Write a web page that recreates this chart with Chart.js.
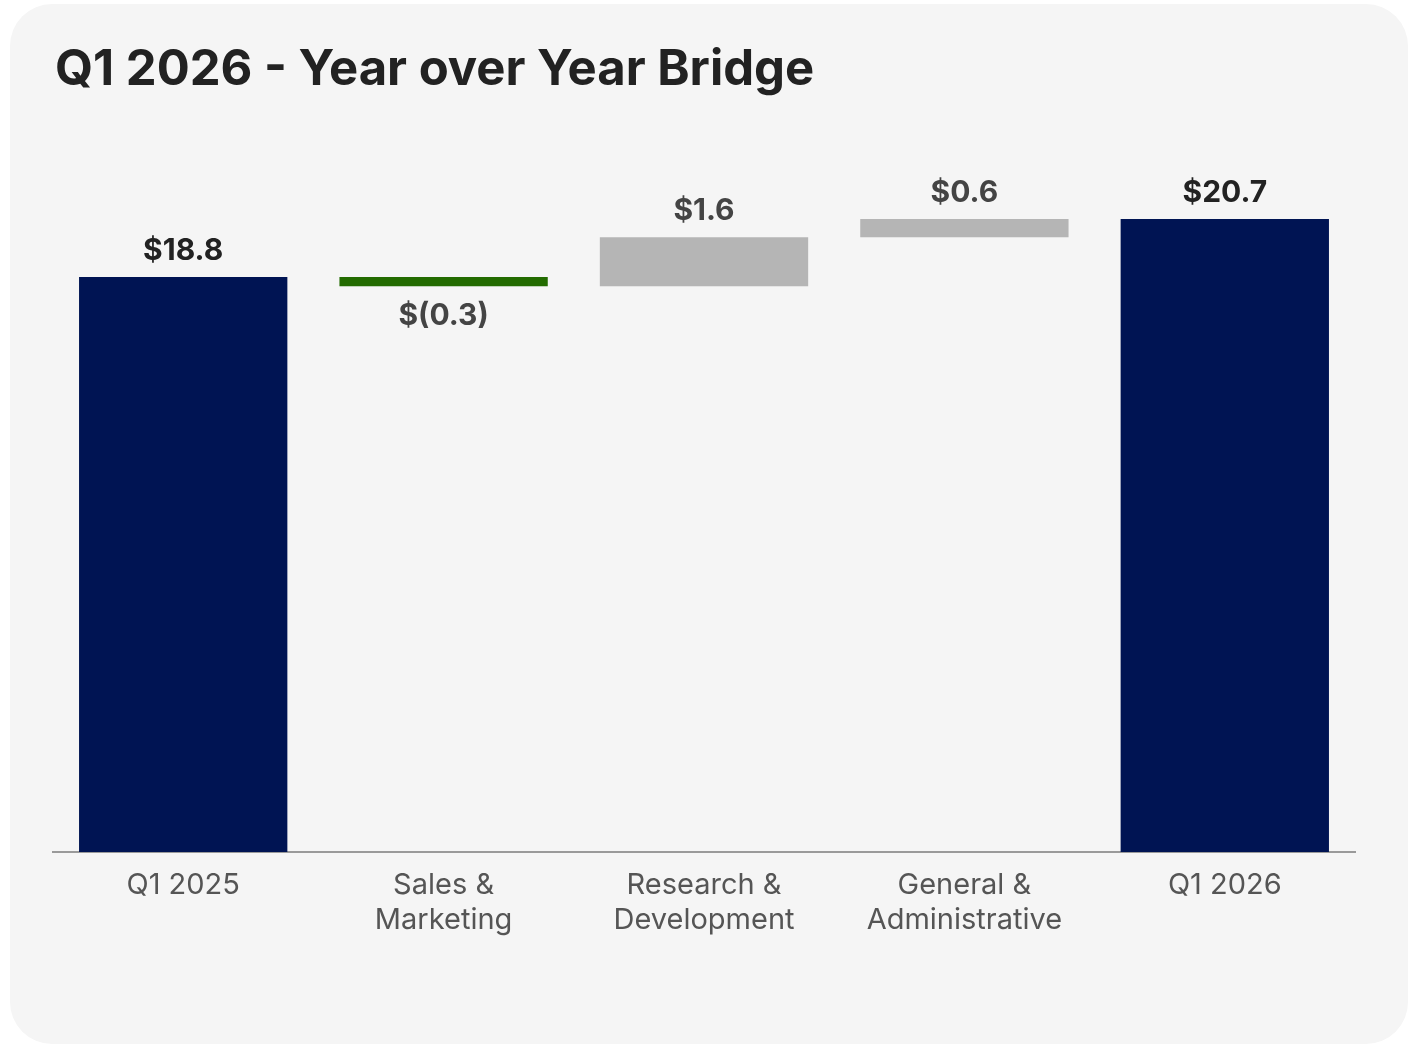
<!DOCTYPE html>
<html>
<head>
<meta charset="utf-8">
<script src="https://cdn.jsdelivr.net/npm/chart.js@4/dist/chart.umd.min.js"></script>
<style>
  html, body { margin: 0; padding: 0; background: #ffffff; }
  body { width: 1413px; height: 1045px; position: relative; overflow: hidden; font-family: Inter, "Noto Sans", sans-serif; }
  .card {
    position: absolute; left: 10px; top: 4px; width: 1398px; height: 1040px;
    background: #f5f5f5; border-radius: 42px; overflow: hidden;
  }
  .card h1 {
    position: absolute; left: 45px; top: 39px; margin: 0;
    font: 700 49px Inter, sans-serif; color: #222222; letter-spacing: 0;
    line-height: 1;
  }
  #bridge { position: absolute; left: 0; top: 0; }
</style>
</head>
<body>
<div class="card">
  <h1>Q1 2026 - Year over Year Bridge</h1>
  <canvas id="bridge" width="1398" height="1040"></canvas>
</div>
<script>
const categories = ['Q1 2025', ['Sales &', 'Marketing'], ['Research &', 'Development'], ['General &', 'Administrative'], 'Q1 2026'];
const startTotal = 18.8;
const changes = [-0.3, 1.6, 0.6];
const endTotal = 20.7;

const navy = '#001453';
const green = '#236b00';
const grey = '#b5b5b5';

// build floating [from, to] ranges for the bridge
let running = startTotal;
const ranges = [[0, startTotal]];
const values = [startTotal];
const colors = [navy];
changes.forEach(d => {
  const next = Math.round((running + d) * 10) / 10;
  ranges.push([running, next]);
  values.push(d);
  colors.push(d < 0 ? green : grey);
  running = next;
});
ranges.push([0, endTotal]);
values.push(endTotal);
colors.push(navy);

function money(v) {
  return v < 0 ? '$(' + Math.abs(v).toFixed(1) + ')' : '$' + v.toFixed(1);
}

const valueLabels = {
  id: 'valueLabels',
  afterDatasetsDraw(chart) {
    const ctx = chart.ctx;
    const meta = chart.getDatasetMeta(0);
    ctx.save();
    ctx.font = '700 30px Inter, sans-serif';
    ctx.textAlign = 'center';
    ctx.textBaseline = 'alphabetic';
    meta.data.forEach((bar, i) => {
      const top = Math.min(bar.y, bar.base);
      const bottom = Math.max(bar.y, bar.base);
      const isTotal = i === 0 || i === values.length - 1;
      ctx.fillStyle = isTotal ? '#222222' : '#444444';
      if (values[i] < 0) {
        ctx.fillText(money(values[i]), bar.x, bottom + 39);
      } else {
        ctx.fillText(money(values[i]), bar.x, top - 17);
      }
    });
    ctx.restore();
  }
};

new Chart(document.getElementById('bridge'), {
  type: 'bar',
  data: {
    labels: categories,
    datasets: [{
      data: ranges,
      backgroundColor: colors,
      borderWidth: 0,
      barPercentage: 0.8,
      categoryPercentage: 1.0
    }]
  },
  options: {
    responsive: false,
    animation: false,
    layout: { padding: { left: 43, right: 53, top: 114, bottom: 72 } },
    plugins: {
      legend: { display: false },
      tooltip: { enabled: false },
      title: { display: false }
    },
    scales: {
      x: {
        grid: { display: false },
        border: { display: true, color: '#9a9a9a', width: 2 },
        ticks: {
          color: '#555555',
          font: { family: 'Inter', size: 29, lineHeight: 1.2 },
          padding: 8,
          maxRotation: 0,
          autoSkip: false
        },
        afterFit(scale) { scale.height = 120; }
      },
      y: {
        display: false,
        min: 0,
        max: 24
      }
    }
  },
  plugins: [valueLabels]
});
</script>
</body>
</html>
